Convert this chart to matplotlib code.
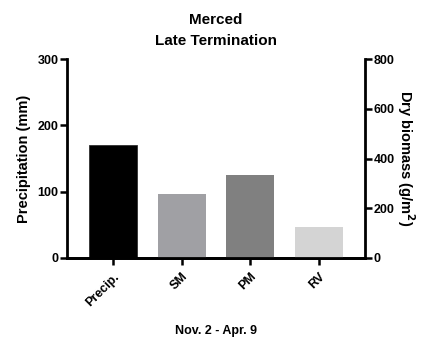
import matplotlib.pyplot as plt

plt.rcParams['font.family'] = ['Liberation Sans', 'DejaVu Sans']
plt.rcParams['font.weight'] = 'bold'

# data
categories = ['Precip.', 'SM', 'PM', 'RV']
precip = [171]             # mm, left axis
biomass = [256, 334, 123]  # g/m2, right axis
colors = ['#000000', '#a0a0a4', '#808080', '#d4d4d4']

fig = plt.figure(figsize=(4.29, 3.44), dpi=100)
ax = fig.add_axes([0.156, 0.25, 0.695, 0.578])
ax2 = ax.twinx()

xs = list(range(len(categories)))
ax.bar(xs[:1], precip, width=0.7, color=colors[0], edgecolor='#303030', linewidth=0.6)
ax2.bar(xs[1:], biomass, width=0.7, color=colors[1:])

ax.set_xlim(-0.67, 3.67)
ax.set_ylim(0, 300)
ax2.set_ylim(0, 800)
ax.set_yticks([0, 100, 200, 300])
ax2.set_yticks([0, 200, 400, 600, 800])
ax.set_xticks(xs)
ax.set_xticklabels(categories, rotation=45, ha='right', rotation_mode='anchor', fontsize=9)

for a in (ax, ax2):
    a.spines['top'].set_visible(False)
    for s in ('left', 'right', 'bottom'):
        a.spines[s].set_linewidth(2)
    a.tick_params(width=1.8, length=5, labelsize=9, pad=1)
ax.spines['right'].set_visible(False)
ax2.spines['left'].set_visible(False)
ax.tick_params(axis='x', pad=4)

ax.set_ylabel('Precipitation (mm)', fontsize=10.5, fontweight='bold', labelpad=5)
ax2.set_ylabel('Dry biomass (g/m$^\\mathbf{2}$)', fontsize=10.5, fontweight='bold',
               rotation=270, labelpad=16)
ax.set_xlabel('Nov. 2 - Apr. 9', fontsize=9, fontweight='bold', labelpad=12)
ax.set_title('Merced\nLate Termination', fontsize=11, fontweight='bold', pad=10,
             linespacing=1.7)

fig.savefig('out.png', dpi=100)
